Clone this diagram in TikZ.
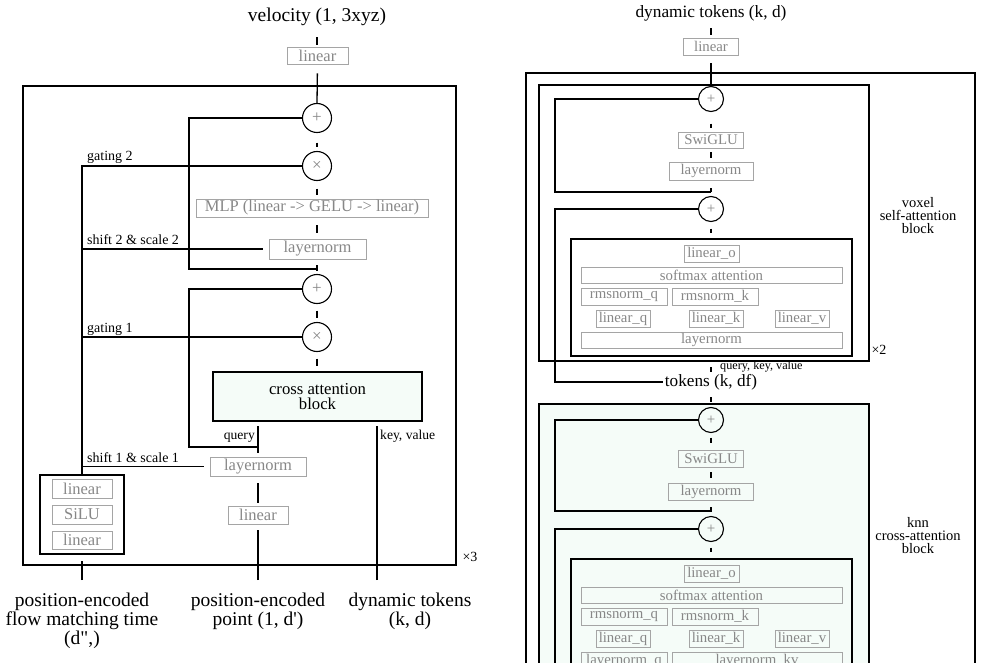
\documentclass[tikz,border=0pt]{standalone}
\usepackage{fontspec}
\setmainfont{Liberation Serif}[Ligatures=TeXOff]
\definecolor{gtext}{RGB}{135,135,135}
\definecolor{gline}{RGB}{165,165,165}
\definecolor{pgreen}{RGB}{245,252,248}
\newcommand\myfs[2]{\fontsize{#1}{#2}\selectfont}
\begin{document}
\begin{tikzpicture}[x=1pt,y=-1pt,
  gbox/.style={draw=gline, text=gtext, line width=0.9pt, inner sep=0pt, font=\myfs{16.5}{18}},
  gboxr/.style={gbox, font=\myfs{14.8}{16}},
  op/.style={circle, draw, line width=1.1pt, minimum size=29pt, inner sep=0pt, text=gtext, font=\myfs{17}{17}},
  opr/.style={op, minimum size=25pt, font=\myfs{15}{15}},
  conn/.style={line width=1.3pt},
  frame/.style={draw, line width=1.2pt, inner sep=0pt},
  lab/.style={inner sep=0pt, font=\myfs{19.5}{19}, align=center},
  small/.style={inner sep=0pt, font=\myfs{14}{14}},
  rlab/.style={inner sep=0pt, font=\myfs{14.5}{13}, align=center}]
\useasboundingbox (0,0) rectangle (982,663);
\clip (0,0) rectangle (982,663);
% ================= LEFT =================
\node[frame, minimum width=433, minimum height=479] (outerL) at (239.5,325.5) {};
\node[lab, minimum height=20] (vel) at (317,17) {velocity (1, 3xyz)};
\node[gbox, minimum width=61, minimum height=17] (lin1) at (317.5,55.5) {linear};
\node[op] (plus1) at (317,118) {+};
\node[op] (times1) at (317,166) {×};
\node[gbox, minimum width=232, minimum height=18] (mlp) at (312,208) {MLP (linear -> GELU -> linear)};
\node[gbox, minimum width=97, minimum height=20] (ln2) at (317.5,249) {layernorm};
\node[op] (plus2) at (317,289) {+};
\node[op] (times2) at (317,337) {×};
\node[frame, fill=pgreen, minimum width=209, minimum height=49, align=center, font=\myfs{16.7}{15}] (ca) at (317.5,396.5) {cross attention\\block};
\node[gbox, minimum width=96, minimum height=19] (ln1) at (258,466.5) {layernorm};
\node[gbox, minimum width=60, minimum height=18] (lin2) at (258,515) {linear};
\node[frame, minimum width=84, minimum height=79] (tbox) at (82,514.5) {};
\node[gbox, minimum width=60, minimum height=19] (tl1) at (82,488.5) {linear};
\node[gbox, minimum width=60, minimum height=19] (tsilu) at (82,514.5) {SiLU};
\node[gbox, minimum width=60, minimum height=18] (tl2) at (82,540) {linear};
\node[lab, anchor=north] (tlab) at (82,593) {position-encoded\\flow matching time\\(d",)};
\node[lab, anchor=north] (plab) at (258,593) {position-encoded\\point (1, d')};
\node[lab, anchor=north] (dlab) at (410,593) {dynamic tokens\\(k, d)};
\node[small] (x3) at (470,557) {×3};
% labels
\node[small, anchor=base west] (g2) at (87,161) {gating 2};
\node[small, anchor=base west] (s2) at (87,244) {shift 2 \& scale 2};
\node[small, anchor=base west] (g1) at (87,332) {gating 1};
\node[small, anchor=base west] (s1) at (87,462) {shift 1 \& scale 1};
\node[small, anchor=base east, font=\myfs{13.6}{14}] (qlab) at (255,439) {query};
\node[small, anchor=base west, font=\myfs{13.6}{14}] (kvlab) at (380,439) {key, value};
% main column
\draw[conn, shorten <=10pt, shorten >=2pt] (vel.south) -- (vel.south |- lin1.north);
\draw[conn, shorten <=9pt] (lin1.south) -- (plus1.north);
\draw[conn, shorten <=9.5pt, shorten >=3.5pt] (plus1.south) -- (times1.north);
\draw[conn, shorten <=7.5pt, shorten >=4pt] (times1.south) -- (times1.south |- mlp.north);
\draw[conn, shorten <=8pt, shorten >=6pt] (plus1.south |- mlp.south) -- (plus1.south |- ln2.north);
\draw[conn, shorten <=6pt, shorten >=2.5pt] (plus2.north |- ln2.south) -- (plus2.north);
\draw[conn, shorten <=6.5pt, shorten >=3.5pt] (plus2.south) -- (times2.north);
\draw[conn, shorten <=6.5pt, shorten >=5pt] (times2.south) -- (times2.south |- ca.north);
\draw[conn, shorten <=4pt, shorten >=4pt] (ln1.north) -- (ln1.north |- ca.south);
\draw[conn, shorten <=3pt, shorten >=7pt] (lin2.north) -- (ln1.south);
\draw[conn, shorten <=13pt, shorten >=6pt] (plab.north) -- (lin2.south);
\draw[conn, shorten <=13pt, shorten >=6pt] (tlab.north) -- (tbox.south);
\coordinate (kvb) at (377,580);
\draw[conn, shorten >=4pt] (kvb) -- (kvb |- ca.south);
% residuals
\coordinate (j1) at (317,269);
\coordinate (r1) at (189,269);
\draw[conn] (j1) -- (r1) |- (plus1.west);
\coordinate (j2) at (258,447);
\coordinate (r2) at (189,447);
\draw[conn] (j2) -- (r2) |- (plus2.west);
% conditioning
\draw[conn] (tbox.north) |- (times1.west);
\draw[conn, shorten >=6pt] (tbox.north |- ln2.west) -- (ln2.west);
\draw[conn] (tbox.north |- times2.west) -- (times2.west);
\draw[conn, shorten >=6pt] (tbox.north |- ln1.west) -- (ln1.west);
% ================= RIGHT =================
\node[frame, minimum width=449, minimum height=757] (outerR) at (750.5,451.5) {};
\node[frame, minimum width=330, minimum height=276] (box1) at (704,223) {};
\node[frame, fill=pgreen, minimum width=330, minimum height=396] (box2) at (704,602) {};
\node[frame, minimum width=281, minimum height=117] (attn1) at (711.5,297.5) {};
\node[frame, minimum width=281, minimum height=201] (attn2) at (711.5,659.5) {};
\node[lab, font=\myfs{17.3}{18}, minimum height=18] (dtR) at (711,13) {dynamic tokens (k, d)};
\node[gboxr, minimum width=55, minimum height=17] (linR) at (711,46.5) {linear};
\node[opr] (plusR1) at (711,99) {+};
\node[gboxr, minimum width=65, minimum height=16] (swi1) at (711,140) {SwiGLU};
\node[gboxr, minimum width=84, minimum height=18] (ln3) at (711,171) {layernorm};
\node[opr] (plusR2) at (711,209) {+};
\node[gboxr, minimum width=55, minimum height=17] (lo1) at (711.5,253.5) {linear\_o};
\node[gboxr, minimum width=261, minimum height=16] (sm1) at (711.5,275) {softmax attention};
\node[gboxr, minimum width=86, minimum height=17] (rq1) at (624,296.5) {rmsnorm\_q};
\node[gboxr, minimum width=86, minimum height=17] (rk1) at (715,296.5) {rmsnorm\_k};
\node[gboxr, minimum width=54, minimum height=17] (lq1) at (623,318.5) {linear\_q};
\node[gboxr, minimum width=54, minimum height=17] (lk1) at (716,318.5) {linear\_k};
\node[gboxr, minimum width=54, minimum height=17] (lv1) at (802,318.5) {linear\_v};
\node[gboxr, minimum width=261, minimum height=16] (lnA1) at (711.5,340) {layernorm};
\node[inner sep=0pt, font=\myfs{17.2}{18}, minimum height=18] (tok) at (711,382) {tokens (k, df)};
\node[small, anchor=base west, font=\myfs{12.2}{12}] (qkv) at (720,369) {query, key, value};
\node[opr] (plusR3) at (711,420) {+};
\node[gboxr, minimum width=65, minimum height=17] (swi2) at (711,458.5) {SwiGLU};
\node[gboxr, minimum width=85, minimum height=17] (ln4) at (711,491.5) {layernorm};
\node[opr] (plusR4) at (711,529) {+};
\node[gboxr, minimum width=55, minimum height=17] (lo2) at (711.5,573.5) {linear\_o};
\node[gboxr, minimum width=261, minimum height=16] (sm2) at (711.5,595) {softmax attention};
\node[gboxr, minimum width=86, minimum height=17] (rq2) at (624,616.5) {rmsnorm\_q};
\node[gboxr, minimum width=86, minimum height=17] (rk2) at (715,616.5) {rmsnorm\_k};
\node[gboxr, minimum width=54, minimum height=17] (lq2) at (623,638.5) {linear\_q};
\node[gboxr, minimum width=54, minimum height=17] (lk2) at (716,638.5) {linear\_k};
\node[gboxr, minimum width=54, minimum height=17] (lv2) at (802,638.5) {linear\_v};
\node[gboxr, minimum width=86, minimum height=17] (lnq2) at (624,660.5) {layernorm\_q};
\node[gboxr, minimum width=170, minimum height=17] (lnkv2) at (757,660.5) {layernorm\_kv};
\node[rlab] (voxlab) at (918,216) {voxel\\self-attention\\block};
\node[rlab] (knnlab) at (918,536) {knn\\cross-attention\\block};
\node[small] (x2) at (879,350) {×2};
% connectors right
\draw[conn, shorten <=6pt, shorten >=3pt] (dtR.south) -- (linR.north);
\draw[conn, shorten <=8pt] (linR.south) -- (plusR1.north);
\draw[conn, shorten <=11.5pt, shorten >=4pt] (plusR1.south) -- (swi1.north);
\draw[conn, shorten <=4pt, shorten >=4pt] (swi1.south) -- (ln3.north);
\draw[conn, shorten <=8pt, shorten >=3.5pt] (ln3.south) -- (plusR2.north);
\draw[conn, shorten <=6.5pt, shorten >=5pt] (plusR2.south) -- (plusR2.south |- attn1.north);
\draw[conn, shorten <=1pt, shorten >=10pt] (tok.north) -- (tok.north |- attn1.south);
\draw[conn, shorten <=6pt, shorten >=4.5pt] (tok.south) -- (plusR3.north);
\draw[conn, shorten <=4.5pt, shorten >=7pt] (plusR3.south) -- (swi2.north);
\draw[conn, shorten <=5pt, shorten >=5pt] (swi2.south) -- (ln4.north);
\draw[conn, shorten <=7pt, shorten >=3.5pt] (ln4.south) -- (plusR4.north);
\draw[conn, shorten <=5.5pt, shorten >=6pt] (plusR4.south) -- (plusR4.south |- attn2.north);
% residuals right
\coordinate (rj1) at (711,192);
\coordinate (rc1) at (555,192);
\draw[conn] (rj1) -- (rc1) |- (plusR1.west);
\coordinate (rc2) at (555,382);
\draw[conn, shorten <=2pt] (tok.west) -- (rc2) |- (plusR2.west);
\coordinate (rj3) at (711,511);
\coordinate (rc3) at (555,511);
\draw[conn] (rj3) -- (rc3) |- (plusR3.west);
\coordinate (rc4) at (555,700);
\draw[conn] (plusR4.west) -| (rc4);
\end{tikzpicture}
\end{document}
